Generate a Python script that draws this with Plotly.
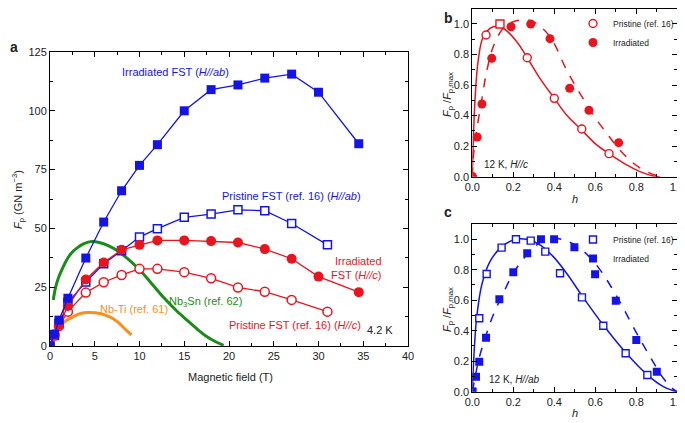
import plotly.graph_objects as go

# ---- panel a : pinning force vs field at 4.2 K
field_irr_ab = [0, 0.5, 1, 2, 4, 6, 8, 10, 12, 15, 18, 21, 24, 27, 30, 34.5]
fp_irr_ab = [0, 5.0, 11.0, 20.3, 37.4, 52.7, 66.0, 76.8, 85.6, 100.0, 109.0, 111.0, 113.9, 115.6, 107.9, 86.0]

field_pri_ab = [0, 0.5, 1, 2, 4, 6, 8, 10, 12, 15, 18, 21, 24, 27, 31]
fp_pri_ab = [0, 4.5, 9.5, 18.5, 27.2, 35.0, 40.5, 46.3, 49.9, 54.7, 56.1, 57.9, 57.5, 52.1, 43.0]

field_irr_c = [0, 0.5, 1, 2, 4, 6, 8, 10, 12, 15, 18, 21, 24, 27, 30, 34.5]
fp_irr_c = [0, 5.0, 8.9, 17.0, 28.3, 35.5, 40.9, 43.0, 44.9, 44.9, 44.6, 44.0, 41.2, 37.1, 29.5, 22.9]

field_pri_c = [0, 0.5, 1, 2, 4, 6, 8, 10, 12, 15, 18, 21, 24, 27, 31]
fp_pri_c = [0, 4.5, 8.5, 14.6, 22.7, 27.1, 30.2, 32.8, 32.8, 31.4, 28.8, 24.9, 23.1, 19.6, 14.6]

field_nb3sn = [0.37, 0.6, 0.93, 1.4, 1.86, 2.4, 3.0, 3.8, 4.66, 5.5, 6.5, 7.5, 8.7, 10, 11.3, 12.6, 14, 15.3, 16.5, 17.5, 18.5, 19.4]
fp_nb3sn = [19.6, 24.5, 28.8, 33.0, 36.6, 39.5, 41.6, 43.5, 44.4, 44.0, 42.7, 40.6, 37.0, 32.4, 26.8, 21.0, 15.5, 11.0, 7.0, 4.0, 1.8, 0.3]

field_nbti = [0.9, 1.5, 2.5, 3.4, 4.3, 5.6, 6.4, 7.1, 7.7, 8.4, 9.1]
fp_nbti = [7.5, 10.0, 12.3, 13.8, 14.2, 13.8, 12.8, 11.5, 9.8, 7.2, 4.7]

# ---- panel b : 12 K, H//c
h_b_pri = [0, 0.067, 0.135, 0.268, 0.40, 0.534, 0.667]
f_b_pri = [0, 0.928, 1.0, 0.779, 0.513, 0.312, 0.151]
h_b_irr = [0, 0.024, 0.047, 0.095, 0.189, 0.285, 0.379, 0.475, 0.569, 0.714]
f_b_irr = [0, 0.26, 0.476, 0.775, 0.982, 1.0, 0.904, 0.579, 0.435, 0.223]
h_b_pri_fit = [0, 0.005, 0.013, 0.029, 0.054, 0.102, 0.151, 0.217, 0.268, 0.33, 0.40, 0.46, 0.534, 0.607, 0.667, 0.753, 0.818, 0.883, 0.915]
f_b_pri_fit = [0, 0.24, 0.50, 0.764, 0.917, 0.982, 0.972, 0.884, 0.779, 0.644, 0.513, 0.404, 0.305, 0.208, 0.151, 0.077, 0.033, 0.005, 0]
h_b_irr_fit = [0, 0.005, 0.021, 0.046, 0.07, 0.102, 0.151, 0.2, 0.249, 0.298, 0.379, 0.46, 0.525, 0.59, 0.656, 0.72, 0.786, 0.851, 0.9, 0.93]
f_b_irr_fit = [0, 0.13, 0.30, 0.502, 0.688, 0.851, 0.972, 1.015, 1.026, 1.015, 0.917, 0.699, 0.546, 0.404, 0.284, 0.175, 0.088, 0.033, 0.007, 0]

# ---- panel c : 12 K, H//ab
h_c_pri = [0, 0.034, 0.07, 0.143, 0.213, 0.285, 0.356, 0.428, 0.535, 0.639, 0.748, 0.854]
f_c_pri = [0, 0.482, 0.772, 0.945, 1.0, 0.991, 0.919, 0.777, 0.619, 0.433, 0.252, 0.11]
h_c_irr = [0, 0.018, 0.034, 0.067, 0.132, 0.2, 0.268, 0.335, 0.399, 0.498, 0.599, 0.70, 0.80, 0.90]
f_c_irr = [0, 0.098, 0.197, 0.354, 0.606, 0.783, 0.908, 1.0, 1.0, 0.947, 0.77, 0.597, 0.339, 0.131]
h_c_pri_fit = [0, 0.01, 0.021, 0.046, 0.086, 0.143, 0.213, 0.265, 0.33, 0.395, 0.46, 0.535, 0.639, 0.748, 0.854, 0.932, 0.997]
f_c_pri_fit = [0, 0.285, 0.482, 0.70, 0.853, 0.95, 1.0, 1.0, 0.963, 0.886, 0.777, 0.63, 0.437, 0.257, 0.11, 0.033, 0]
h_c_irr_fit = [0, 0.013, 0.029, 0.062, 0.102, 0.151, 0.2, 0.265, 0.33, 0.395, 0.46, 0.525, 0.599, 0.672, 0.737, 0.802, 0.867, 0.932, 0.98, 1.0]
f_c_irr_fit = [0, 0.088, 0.197, 0.35, 0.503, 0.646, 0.777, 0.897, 0.978, 1.006, 0.989, 0.941, 0.842, 0.70, 0.547, 0.383, 0.23, 0.088, 0.017, 0]

BLUE = '#1414e6'
RED = '#e8141e'
GREEN = '#1a8c1a'
ORANGE = '#f5911e'
FONT = 'Liberation Sans, Arial, sans-serif'

# page has an 8 px body margin, so the figure is drawn 8 px in from the window corner
OFF = 8
W, H = 685 - OFF, 423 - OFF


def fx(px):
    """window pixel x -> paper fraction"""
    return max(0.0, (px - OFF) / W)


def fy(py):
    """window pixel y -> paper fraction"""
    return min(1.0, 1 - (py - OFF) / H)


fig = go.Figure()

# panel a reference curves
fig.add_trace(go.Scatter(x=field_nb3sn, y=fp_nb3sn, mode='lines', line=dict(color=GREEN, width=3, shape='spline'),
                         showlegend=False, xaxis='x', yaxis='y'))
fig.add_trace(go.Scatter(x=field_nbti, y=fp_nbti, mode='lines', line=dict(color=ORANGE, width=3, shape='spline'),
                         showlegend=False, xaxis='x', yaxis='y'))

# panel a data
fig.add_trace(go.Scatter(x=field_pri_ab, y=fp_pri_ab, mode='lines+markers', line=dict(color=BLUE, width=1.3),
                         marker=dict(symbol='square', size=8, color='white', line=dict(color=BLUE, width=1.5)),
                         showlegend=False, xaxis='x', yaxis='y'))
fig.add_trace(go.Scatter(x=field_pri_c, y=fp_pri_c, mode='lines+markers', line=dict(color=RED, width=1.3),
                         marker=dict(symbol='circle', size=9, color='white', line=dict(color=RED, width=1.5)),
                         showlegend=False, xaxis='x', yaxis='y'))
fig.add_trace(go.Scatter(x=field_irr_c, y=fp_irr_c, mode='lines+markers', line=dict(color=RED, width=1.3),
                         marker=dict(symbol='circle', size=10, color=RED),
                         showlegend=False, xaxis='x', yaxis='y'))
fig.add_trace(go.Scatter(x=field_irr_ab, y=fp_irr_ab, mode='lines+markers', line=dict(color=BLUE, width=1.3),
                         marker=dict(symbol='square', size=9, color=BLUE),
                         showlegend=False, xaxis='x', yaxis='y'))

# panel b
fig.add_trace(go.Scatter(x=h_b_pri_fit, y=f_b_pri_fit, mode='lines', line=dict(color=RED, width=1.5, shape='spline'),
                         showlegend=False, xaxis='x2', yaxis='y2'))
fig.add_trace(go.Scatter(x=h_b_irr_fit, y=f_b_irr_fit, mode='lines',
                         line=dict(color=RED, width=1.5, dash='dash', shape='spline'),
                         showlegend=False, xaxis='x2', yaxis='y2'))
sym_b = ['circle'] * len(h_b_pri)
sym_b[2] = 'square'
fig.add_trace(go.Scatter(x=h_b_pri, y=f_b_pri, mode='markers', name='Pristine (ref. 16)',
                         marker=dict(symbol=sym_b, size=8, color='white', line=dict(color=RED, width=1.4)),
                         legend='legend', xaxis='x2', yaxis='y2'))
fig.add_trace(go.Scatter(x=h_b_irr, y=f_b_irr, mode='markers', name='Irradiated',
                         marker=dict(symbol='circle', size=9, color=RED),
                         legend='legend', xaxis='x2', yaxis='y2'))

# panel c
fig.add_trace(go.Scatter(x=h_c_pri_fit, y=f_c_pri_fit, mode='lines', line=dict(color=BLUE, width=1.5, shape='spline'),
                         showlegend=False, xaxis='x3', yaxis='y3'))
fig.add_trace(go.Scatter(x=h_c_irr_fit, y=f_c_irr_fit, mode='lines',
                         line=dict(color=BLUE, width=1.5, dash='dash', shape='spline'),
                         showlegend=False, xaxis='x3', yaxis='y3'))
fig.add_trace(go.Scatter(x=h_c_pri, y=f_c_pri, mode='markers', name='Pristine (ref. 16)',
                         marker=dict(symbol='square', size=7, color='white', line=dict(color=BLUE, width=1.4)),
                         legend='legend2', xaxis='x3', yaxis='y3'))
fig.add_trace(go.Scatter(x=h_c_irr, y=f_c_irr, mode='markers', name='Irradiated',
                         marker=dict(symbol='square', size=8, color=BLUE),
                         legend='legend2', xaxis='x3', yaxis='y3'))

axis_style = dict(showline=True, linecolor='black', linewidth=1, mirror='ticks', ticks='inside',
                  ticklen=5, tickcolor='black', showgrid=False, zeroline=False, automargin=False,
                  tickfont=dict(size=11, color='#222', family=FONT))
minor_a = dict(ticklen=3, ticks='inside', tickcolor='black')

fig.update_layout(
    width=W, height=H, margin=dict(l=0, r=0, t=0, b=0, autoexpand=False),
    paper_bgcolor='white', plot_bgcolor='white',
    font=dict(family=FONT, color='#222'),
    xaxis=dict(domain=[fx(50), fx(408)], range=[0, 40], dtick=5, anchor='y',
               minor=dict(dtick=2.5, **minor_a), **axis_style),
    yaxis=dict(domain=[fy(346), fy(52)], range=[0, 125], dtick=25, anchor='x',
               minor=dict(dtick=12.5, **minor_a), **axis_style),
    xaxis2=dict(domain=[fx(472.3), fx(677.3)], range=[0, 1.0], dtick=0.2, tickformat='.1f', anchor='y2',
                minor=dict(dtick=0.1, **minor_a), **axis_style),
    yaxis2=dict(domain=[fy(176.7), fy(8.7)], range=[0, 1.1], dtick=0.2, tickformat='.1f', anchor='x2',
                minor=dict(dtick=0.1, **minor_a), **axis_style),
    xaxis3=dict(domain=[fx(472.3), fx(677.3)], range=[0, 1.0], dtick=0.2, tickformat='.1f', anchor='y3',
                minor=dict(dtick=0.1, **minor_a), **axis_style),
    yaxis3=dict(domain=[fy(391.7), fy(224)], range=[0, 1.1], dtick=0.2, tickformat='.1f', anchor='x3',
                minor=dict(dtick=0.1, **minor_a), **axis_style),
    legend=dict(x=fx(573), y=fy(9), xanchor='left', yanchor='top', bgcolor='rgba(0,0,0,0)',
                font=dict(size=8.5, family=FONT, color='#222'), itemwidth=30, tracegroupgap=0),
    legend2=dict(x=fx(573), y=fy(225), xanchor='left', yanchor='top', bgcolor='rgba(0,0,0,0)',
                 font=dict(size=8.5, family=FONT, color='#222'), itemwidth=30, tracegroupgap=0),
)


def txt(x, y, text, color='#222', size=11, xanchor='center', yanchor='middle', **kw):
    fig.add_annotation(x=fx(x), y=fy(y), xref='paper', yref='paper', text=text, showarrow=False,
                       xanchor=xanchor, yanchor=yanchor,
                       font=dict(size=size, color=color, family=FONT), **kw)


# panel letters
txt(8, 47, '<b>a</b>', size=14, xanchor='left')
txt(448, 8, '<b>b</b>', size=14, yanchor='top')
txt(448, 212, '<b>c</b>', size=14)

# axis titles
txt(230, 377, 'Magnetic field (T)')
txt(18, 200, '<i>F</i><sub>p</sub> (GN m<sup>−3</sup>)', textangle=-90)
txt(575, 199, '<i>h</i>')
txt(575, 413, '<i>h</i>')
txt(448, 95, '<i>F</i><sub>p</sub> /<i>F</i><sub>p,max</sub>', textangle=-90)
txt(448, 310, '<i>F</i><sub>p</sub> /<i>F</i><sub>p,max</sub>', textangle=-90)

# panel a labels
txt(175, 72, 'Irradiated FST (<i>H//ab</i>)', color=BLUE)
txt(291, 196, 'Pristine FST (ref. 16) (<i>H//ab</i>)', color=BLUE)
txt(356, 268, 'Irradiated<br>FST (<i>H//c</i>)', color=RED, align='right')
txt(295, 325, 'Pristine FST (ref. 16) (<i>H//c</i>)', color=RED)
txt(380, 330, '4.2 K')
txt(206, 302, 'Nb<sub>3</sub>Sn (ref. 62)', color=GREEN)
txt(134, 309, 'Nb-Ti (ref. 61)', color=ORANGE)

# panel b/c labels
txt(482, 164, '12 K, <i>H//c</i>', size=10, xanchor='left')
txt(487, 379, '12 K, <i>H//ab</i>', size=10, xanchor='left')

fig.write_html("out.html")
